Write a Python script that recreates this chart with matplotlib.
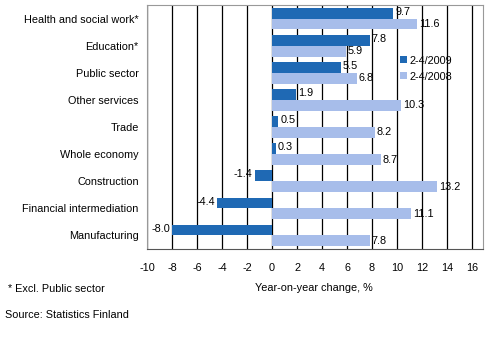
import numpy as np
import matplotlib.pyplot as plt

plt.rcParams['font.family'] = ['Liberation Sans', 'DejaVu Sans']

# --- Data (top to bottom as shown) ---
categories = ['Health and social work*', 'Education*', 'Public sector', 'Other services',
              'Trade', 'Whole economy', 'Construction', 'Financial intermediation',
              'Manufacturing']
y2009 = [9.7, 7.8, 5.5, 1.9, 0.5, 0.3, -1.4, -4.4, -8.0]
y2008 = [11.6, 5.9, 6.8, 10.3, 8.2, 8.7, 13.2, 11.1, 7.8]
series_names = ['2-4/2009', '2-4/2008']
xticks = list(range(-10, 17, 2))

dark = '#1f69b4'
light = '#a7bdea'
fs = 7.8

fig = plt.figure(figsize=(4.99, 3.44), dpi=100)
ax = fig.add_axes([0.2946, 0.276, 0.674, 0.7095])

pos = np.arange(len(categories))
h = 0.4
ax.barh(pos - h / 2, y2009, height=h, color=dark, label=series_names[0], zorder=3)
ax.barh(pos + h / 2, y2008, height=h, color=light, label=series_names[1], zorder=3)

# value labels
for i, (a, b) in enumerate(zip(y2009, y2008)):
    if a >= 0:
        ax.text(a + 0.15, i - h / 2 - 0.05, f'{a:.1f}', va='center', ha='left', fontsize=fs, zorder=4)
    else:
        ax.text(a - 0.15, i - h / 2 - 0.05, f'{a:.1f}', va='center', ha='right', fontsize=fs, zorder=4)
    ax.text(b + 0.15, i + h / 2, f'{b:.1f}', va='center', ha='left', fontsize=fs, zorder=4)

ax.set_xlim(-10, 16.9)
ax.set_ylim(len(categories) - 0.5, -0.5)
ax.set_xticks(xticks)
ax.set_xticklabels([str(t) for t in xticks], fontsize=fs)
ax.set_yticks(pos)
ax.set_yticklabels(categories, fontsize=fs)
ax.tick_params(axis='x', length=0, pad=10)
ax.tick_params(axis='y', length=0, pad=6)

ax.grid(axis='x', color='black', linewidth=0.9, zorder=0)
for s in ['top', 'left', 'right']:
    ax.spines[s].set_color('#999999')
ax.spines['bottom'].set_color('#555555')

ax.legend(loc='upper left', bbox_to_anchor=(0.74, 0.81), frameon=False, fontsize=fs,
          handlelength=0.6, handleheight=0.6, handletextpad=0.3, labelspacing=0.55,
          borderaxespad=0)

fig.text(0.63, 0.162, 'Year-on-year change, %', ha='center', va='center', fontsize=fs)
fig.text(0.016, 0.16, '* Excl. Public sector', ha='left', va='center', fontsize=fs)
fig.text(0.01, 0.085, 'Source: Statistics Finland', ha='left', va='center', fontsize=fs)

fig.savefig('out.png', dpi=100)
